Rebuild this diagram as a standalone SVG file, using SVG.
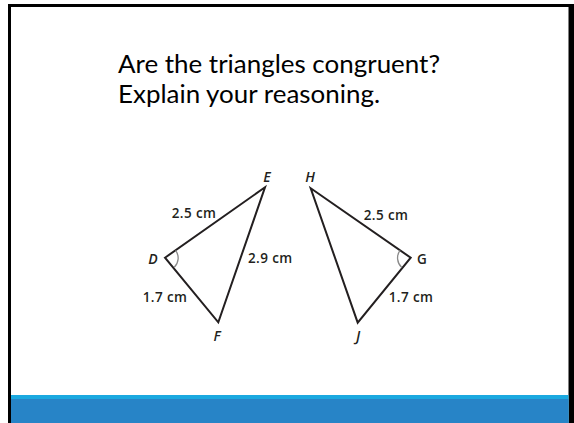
<svg xmlns="http://www.w3.org/2000/svg" width="574" height="423" viewBox="0 0 574 423">
<style>
.title{font-family:Lato,"Open Sans",sans-serif;font-size:25.5px;fill:#000}
.lbl{font-family:"Open Sans","Liberation Sans",sans-serif;font-size:13.5px;font-weight:600;fill:#231f20}
.vtx{font-family:"Open Sans","Liberation Sans",sans-serif;font-size:14px;font-weight:600;font-style:italic;fill:#231f20}
.side{stroke:#231f20;stroke-width:2;fill:none;stroke-linejoin:miter}
.arc{stroke:#8a8a8a;stroke-width:1.3;fill:none}
</style>
<rect x="0" y="0" width="574" height="423" fill="#fff"/>
<rect x="8" y="4" width="566" height="419" fill="#000"/>
<rect x="11" y="7" width="557.5" height="416" fill="#fff"/>
<rect x="11" y="395" width="557.5" height="28" fill="#1ba9e0"/>
<rect x="11" y="399" width="557.5" height="24" fill="#2784c7"/>
<g id="title">
<text class="title" x="118" y="73" textLength="322" lengthAdjust="spacingAndGlyphs">Are the triangles congruent?</text>
<text class="title" x="118" y="103" textLength="262" lengthAdjust="spacingAndGlyphs">Explain your reasoning.</text>
</g>
<g id="connectors">
<polygon class="side" points="165,257.7 265,187.3 218.3,322.3"/>
<polygon class="side" points="310.7,188.3 410.7,257.7 357.7,322.7"/>
<path class="arc" d="M175.6,250.3 A13,13 0 0 1 174.3,267.3"/>
<path class="arc" d="M400,250.3 A13,13 0 0 0 401.6,267.3"/>
</g>
<g id="triangle-DEF">
<text class="vtx" x="153" y="264" text-anchor="middle">D</text>
<text class="vtx" x="267" y="182" text-anchor="middle">E</text>
<text class="vtx" x="217" y="341" text-anchor="middle">F</text>
<text class="lbl" x="194" y="218" text-anchor="middle" letter-spacing="0.4">2.5 cm</text>
<text class="lbl" x="248" y="262.5" letter-spacing="0.4">2.9 cm</text>
<text class="lbl" x="165" y="301.5" text-anchor="middle" letter-spacing="0.4">1.7 cm</text>
</g>
<g id="triangle-GHJ">
<text class="vtx" x="310" y="182" text-anchor="middle">H</text>
<text class="lbl" x="422" y="264" text-anchor="middle" font-size="14">G</text>
<text class="vtx" x="358" y="341" text-anchor="middle">J</text>
<text class="lbl" x="386" y="219.5" text-anchor="middle" letter-spacing="0.4">2.5 cm</text>
<text class="lbl" x="411" y="301.5" text-anchor="middle" letter-spacing="0.4">1.7 cm</text>
</g>
</svg>
